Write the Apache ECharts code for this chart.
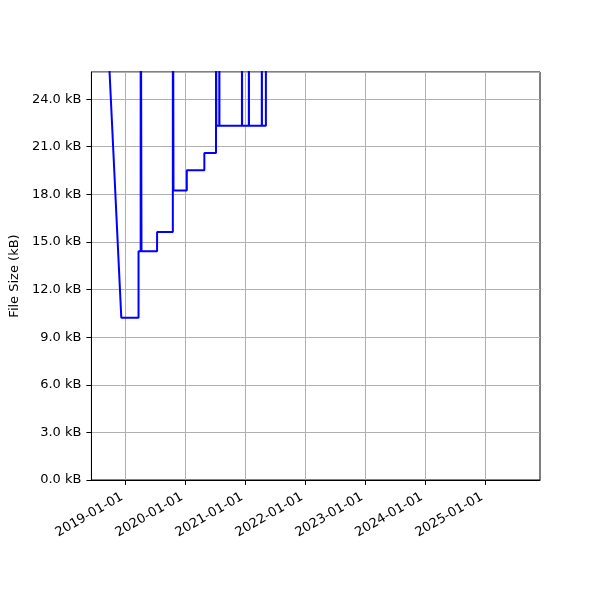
<!DOCTYPE html>
<html>
<head>
<meta charset="utf-8">
<script src="https://cdn.jsdelivr.net/npm/echarts@6/dist/echarts.min.js"></script>
<style>html,body{margin:0;padding:0;background:#fff}#c{width:600px;height:600px}</style>
</head>
<body>
<div id="c"></div>
<script>
// Dates of recorded points (YYYY-MM-DD)
const dates = [
  '2018-09-01','2018-12-06','2019-03-21','2019-03-21','2019-04-03','2019-04-03','2019-04-08','2019-04-08',
  '2019-07-12','2019-07-12','2019-10-16','2019-10-16','2019-10-20','2019-10-20',
  '2020-01-09','2020-01-09','2020-04-25','2020-04-25',
  '2020-07-05','2020-07-05','2020-07-07','2020-07-07',
  '2020-07-25','2020-07-25','2020-07-26','2020-07-26',
  '2020-12-10','2020-12-10','2020-12-11','2020-12-11',
  '2021-01-21','2021-01-21','2021-01-22','2021-01-22',
  '2021-04-10','2021-04-10','2021-04-11','2021-04-11',
  '2021-05-05','2021-05-05'
];
// File sizes in kB (values above the visible range are clipped spikes)
const sizes = [
  31.0, 10.23, 10.23, 14.41, 14.41, 40, 40, 14.41,
  14.41, 15.63, 15.63, 40, 40, 18.25,
  18.25, 19.52, 19.52, 20.61,
  20.61, 40, 40, 22.33,
  22.33, 40, 40, 22.33,
  22.33, 40, 40, 22.33,
  22.33, 40, 40, 22.33,
  22.33, 40, 40, 22.33,
  22.33, 40
];
const xTickDates = ['2019-01-01','2020-01-01','2021-01-01','2022-01-01','2023-01-01','2024-01-01','2025-01-01'];
const xRange = ['2018-06-07','2025-11-30'];
const yRange = [0, 25.71];
const yStep = 3;

function ts(s){ const p = s.split('-').map(Number); return Date.UTC(p[0], p[1]-1, p[2]); }
function fmtDate(v){
  const d = new Date(v);
  const pad = n => (n < 10 ? '0' : '') + n;
  return d.getUTCFullYear() + '-' + pad(d.getUTCMonth()+1) + '-' + pad(d.getUTCDate());
}
const seriesData = dates.map((d, i) => [ts(d), sizes[i]]);
const tickVals = xTickDates.map(ts);
const font = 'DejaVu Sans';

const chart = echarts.init(document.getElementById('c'), null, {renderer: 'canvas'});
chart.setOption({
  animation: false,
  backgroundColor: '#ffffff',
  grid: {left: 90, right: 60, top: 72, bottom: 120, show: true, borderColor: '#000', borderWidth: 1, backgroundColor: 'transparent'},
  xAxis: {
    type: 'value',
    min: ts(xRange[0]), max: ts(xRange[1]),
    axisLine: {show: true, onZero: false, lineStyle: {color: '#000', width: 1}},
    axisTick: {show: true, length: 5, inside: false, customValues: tickVals, lineStyle: {color: '#000'}},
    splitLine: {show: true, lineStyle: {color: '#b0b0b0', width: 1}},
    axisLabel: {
      customValues: tickVals,
      rotate: 30, margin: 14, padding: [0, 4, 0, 0],
      color: '#000', fontFamily: font, fontSize: 13,
      formatter: v => fmtDate(v),
      hideOverlap: false
    }
  },
  yAxis: {
    type: 'value',
    min: yRange[0], max: yRange[1], interval: yStep,
    name: 'File Size (kB)', nameLocation: 'middle', nameGap: 63, nameRotate: 90,
    nameTextStyle: {color: '#000', fontFamily: font, fontSize: 13},
    axisLine: {show: true, lineStyle: {color: '#000', width: 1}},
    axisTick: {show: true, length: 5, lineStyle: {color: '#000'}},
    splitLine: {show: true, lineStyle: {color: '#b0b0b0', width: 1}},
    axisLabel: {
      margin: 10, color: '#000', fontFamily: font, fontSize: 13,
      showMaxLabel: false,
      formatter: v => (Math.abs(v / yStep - Math.round(v / yStep)) < 1e-6 ? v.toFixed(1) + ' kB' : '')
    }
  },
  series: [{
    type: 'line',
    data: seriesData,
    showSymbol: false,
    clip: true,
    lineStyle: {color: '#0000ff', width: 2},
    itemStyle: {color: '#0000ff'}
  }]
});
</script>
</body>
</html>
